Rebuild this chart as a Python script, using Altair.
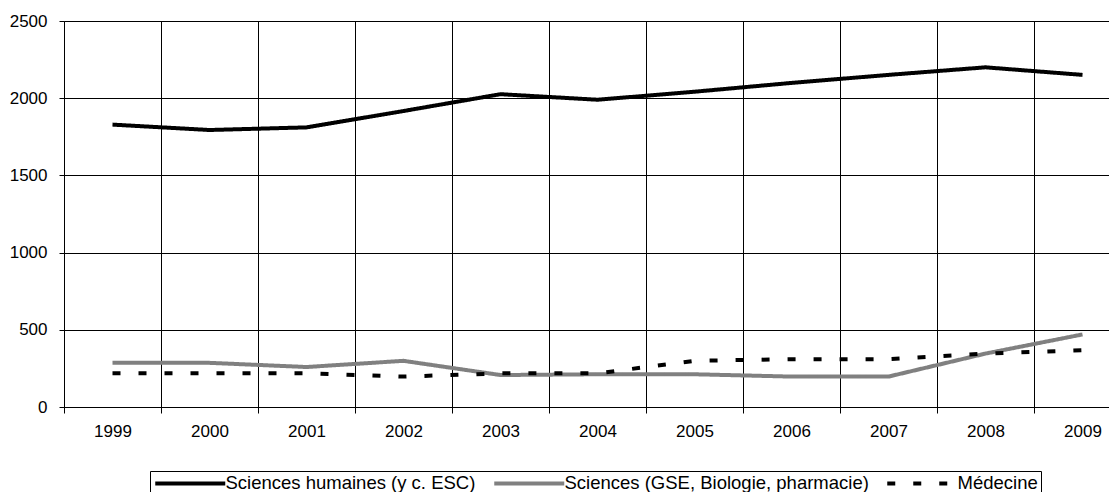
import altair as alt
import pandas as pd

years = list(range(1999, 2010))
humaines = [1829, 1794, 1811, 1917, 2026, 1990, 2042, 2099, 2151, 2200, 2151]
sciences = [286, 286, 259, 299, 207, 212, 212, 197, 197, 346, 470]
medecine = [218, 218, 218, 197, 218, 218, 299, 310, 310, 346, 368]
series = ["Sciences humaines (y c. ESC)", "Sciences (GSE, Biologie, pharmacie)", "Médecine"]
colors = ["#000000", "#808080", "#000000"]
dashes = [[1, 0], [1, 0], [8, 18]]
y_ticks = [0, 500, 1000, 1500, 2000, 2500]

rows = []
for name, vals in zip(series, [humaines, sciences, medecine]):
    for yr, v in zip(years, vals):
        rows.append({"year": yr, "value": v, "series": name})
df = pd.DataFrame(rows)

band = 97.0
W = 1045
H = 386
x_dom = [1998.5, 1998.5 + W / band]
boundaries = [y - 0.5 for y in years]

xscale = alt.Scale(domain=x_dom, nice=False, zero=False)
yscale = alt.Scale(domain=[0, 2500], nice=False)

y_enc = alt.Y("value:Q", scale=yscale,
              axis=alt.Axis(values=y_ticks, title=None, grid=True, gridColor="#000000",
                            gridOpacity=1, gridWidth=1, domain=True, domainColor="#000000",
                            domainWidth=1, ticks=True, tickColor="#000000", tickSize=5,
                            labelFontSize=17, labelColor="#000000", labelPadding=12,
                            labelFont="Liberation Sans", format="d"))

lines = alt.Chart(df).mark_line(strokeWidth=4, strokeJoin="round", strokeCap="butt").encode(
    x=alt.X("year:Q", scale=xscale,
            axis=alt.Axis(values=boundaries, labels=False, title=None, grid=True,
                          gridColor="#000000", gridOpacity=1, gridWidth=1,
                          ticks=True, tickSize=6, tickColor="#000000",
                          domain=True, domainColor="#000000", orient="bottom")),
    y=y_enc,
    color=alt.Color("series:N", scale=alt.Scale(domain=series, range=colors),
                    sort=series,
                    legend=alt.Legend(title=None, orient="none", direction="horizontal",
                                      legendX=86, legendY=450, symbolType="M-1,0H9",
                                      symbolSize=196, symbolStrokeWidth=4,
                                      labelFontSize=18.5, labelFont="Liberation Sans",
                                      labelColor="#000000", labelOffset=54,
                                      labelLimit=0,
                                      columnPadding=10, padding=3,
                                      strokeColor="#000000", fillColor="#ffffff",
                                      cornerRadius=0)),
    strokeDash=alt.StrokeDash("series:N", scale=alt.Scale(domain=series, range=dashes),
                              sort=series, legend=None),
    detail="series:N",
)

labels_layer = alt.Chart(df).mark_point(opacity=0).encode(
    x=alt.X("year:Q", scale=xscale,
            axis=alt.Axis(values=years, title=None, grid=False, ticks=False, domain=False,
                          labelFontSize=17, labelColor="#000000", labelPadding=16,
                          labelFont="Liberation Sans", format="d", orient="bottom")),
    y=alt.Y("value:Q", scale=yscale),
)

chart = alt.layer(lines, labels_layer).resolve_axis(x="independent").properties(
    width=W, height=H,
    autosize=alt.AutoSizeParams(type="none"),
    padding={"left": 56, "top": 13, "right": 0, "bottom": 85},
).configure_view(stroke=None).configure(font="Liberation Sans")

chart.save("out.html", embed_options={"renderer": "svg", "actions": False})
